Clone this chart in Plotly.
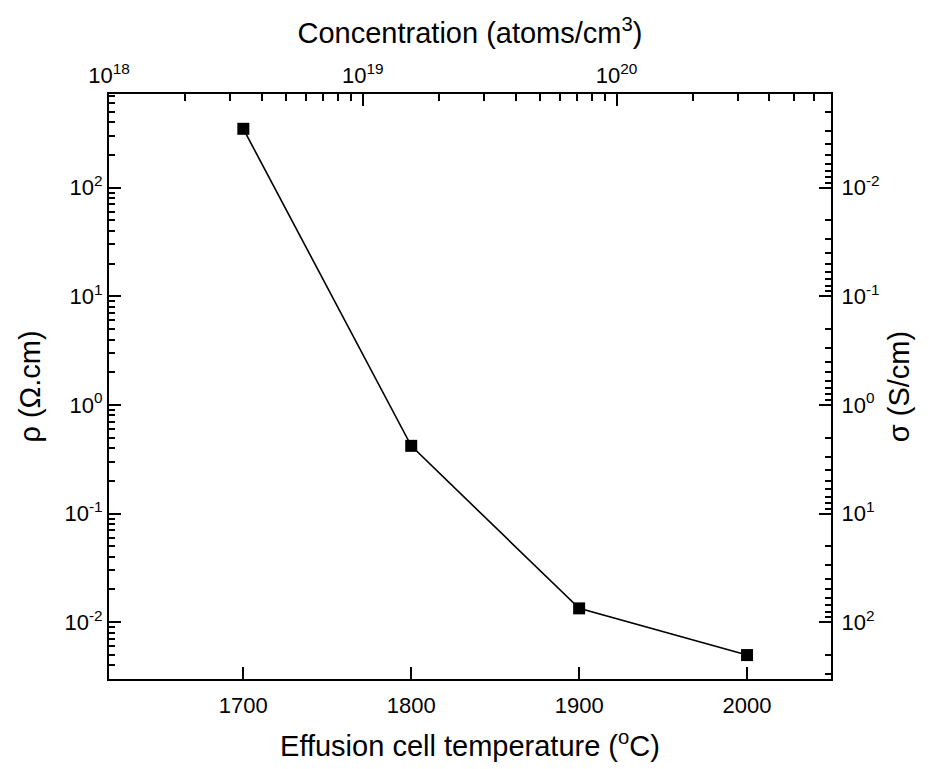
import plotly.graph_objects as go

# Data
temperature = [1700, 1800, 1900, 2000]          # Effusion cell temperature (°C)
resistivity = [348, 0.42, 0.0134, 0.00498]      # rho (Ohm.cm)
conductivity = [1.0 / r for r in resistivity]    # sigma (S/cm)

rho_tick_exps = [-2, -1, 0, 1, 2]
sigma_tick_exps = [-2, -1, 0, 1, 2]
conc_tick_exps = [18, 19, 20]
x_ticks = [1700, 1800, 1900, 2000]

FONT = "Liberation Sans, Arial, sans-serif"

def minor_vals(lo, hi):
    vals = []
    for e in range(lo, hi + 1):
        for m in range(2, 10):
            vals.append(m * 10.0 ** e)
    return vals

def pow_label(e):
    return "10<sup>%d</sup>" % e

conc_tickvals = [10.0 ** e for e in conc_tick_exps]

fig = go.Figure()
fig.add_trace(go.Scatter(
    x=temperature, y=resistivity, mode="lines+markers",
    line=dict(color="black", width=1.6),
    marker=dict(symbol="square", size=12, color="black"),
    xaxis="x", yaxis="y", showlegend=False, hoverinfo="x+y"))
# conductivity on right axis (invisible, axis is a reciprocal view)
fig.add_trace(go.Scatter(
    x=temperature, y=conductivity, mode="markers",
    marker=dict(opacity=0), xaxis="x", yaxis="y2",
    showlegend=False, hoverinfo="skip"))
# invisible helper so the top concentration axis has data and draws its ticks
fig.add_trace(go.Scatter(
    x=conc_tickvals, y=[1.0] * len(conc_tickvals), mode="markers",
    marker=dict(opacity=0, size=1), xaxis="x2", yaxis="y",
    showlegend=False, hoverinfo="skip"))

tickfont = dict(family=FONT, size=22, color="black")
titlefont = dict(family=FONT, size=29, color="black")

fig.update_layout(
    width=929, height=769,
    margin=dict(l=109, r=98, t=94, b=88),
    paper_bgcolor="white", plot_bgcolor="white",
    xaxis=dict(
        range=[1620, 2050], tickvals=x_ticks,
        ticks="inside", ticklen=12, tickwidth=2, tickcolor="black",
        showline=True, linecolor="black", linewidth=2,
        showgrid=False, zeroline=False, tickfont=tickfont,
        ticklabelstandoff=6,
        title=dict(text="Effusion cell temperature (<sup>o</sup>C)", font=titlefont, standoff=18),
    ),
    xaxis2=dict(
        type="log", range=[18.0, 20.845], overlaying="x", side="top", anchor="y",
        tickvals=conc_tickvals,
        ticktext=[pow_label(e) for e in conc_tick_exps],
        ticks="inside", ticklen=12, tickwidth=2, tickcolor="black",
        minor=dict(tickvals=minor_vals(18, 20), ticks="inside", ticklen=7,
                   tickwidth=2, tickcolor="black", showgrid=False),
        showline=True, linecolor="black", linewidth=2,
        showgrid=False, zeroline=False, tickfont=tickfont,
        title=dict(text="Concentration (atoms/cm<sup>3</sup>)", font=titlefont, standoff=8),
    ),
    yaxis=dict(
        type="log", range=[-2.523, 2.862],
        tickvals=[10.0 ** e for e in rho_tick_exps],
        ticktext=[pow_label(e) for e in rho_tick_exps],
        ticks="inside", ticklen=12, tickwidth=2, tickcolor="black",
        minor=dict(tickvals=minor_vals(-3, 2), ticks="inside", ticklen=6,
                   tickwidth=1.5, tickcolor="black", showgrid=False),
        showline=True, linecolor="black", linewidth=2,
        showgrid=False, zeroline=False, tickfont=tickfont,
        title=dict(text="ρ (Ω.cm)", font=titlefont, standoff=15),
    ),
    yaxis2=dict(
        type="log", range=[2.523, -2.862], overlaying="y", side="right", anchor="x",
        tickvals=[10.0 ** e for e in sigma_tick_exps],
        ticktext=[pow_label(e) for e in sigma_tick_exps],
        ticks="inside", ticklen=12, tickwidth=2, tickcolor="black",
        minor=dict(tickvals=minor_vals(-3, 2), ticks="inside", ticklen=6,
                   tickwidth=1.5, tickcolor="black", showgrid=False),
        showline=True, linecolor="black", linewidth=2,
        showgrid=False, zeroline=False, tickfont=tickfont,
        ticklabelstandoff=4,
        title=dict(text="σ (S/cm)", font=titlefont, standoff=10),
    ),
)

fig.write_html("out.html")
